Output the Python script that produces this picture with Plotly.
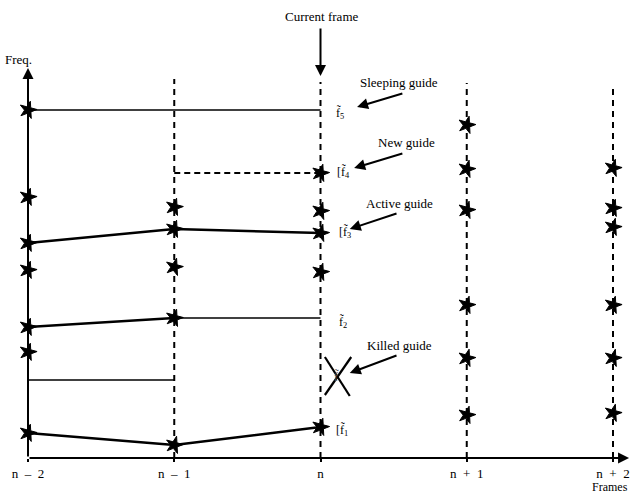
import plotly.graph_objects as go

# Frames (index positions) and labels
frame_idx = [0, 1, 2, 3, 4]
frame_labels = ["n  –  2", "n  –  1", "n", "n  +  1", "n  +  2"]

# Peak frequencies (stars) per frame, arbitrary units
peaks_n2 = [348, 261, 215, 188, 131, 106, 25]
peaks_n1 = [251, 229, 191, 140, 13]
peaks_n0 = [285, 247, 225, 186, 31]
peaks_p1 = [333, 289, 248, 153, 100, 43]
peaks_p2 = [290, 250, 231, 153, 100, 45]

# Dashed frame line heights
frame_top = [390, 379, 376, 375, 369]

# Guides
guide1_x = [0, 1, 2]; guide1_y = [25, 13, 31]
guide2_x = [0, 1];    guide2_y = [131, 140]
guide2_hold_x = [1, 2]; guide2_hold_y = [140, 140]
guide3_x = [0, 1, 2]; guide3_y = [215, 229, 225]
guide4_x = [1, 2];    guide4_y = [285, 285]
guide5_x = [0, 2];    guide5_y = [348, 348]
killed_x = [0, 1];    killed_y = [78, 78]

# Killed guide cross
cross_x = [2.03, 2.20, None, 2.21, 2.03]
cross_y = [101, 62, None, 101, 63]

# Guide labels
glabel_x = [2.09, 2.11, 2.11, 2.10, 2.09]
glabel_y = [28, 136, 226, 286, 345]
glabel_t = ["[f̃<sub>1</sub>", "f̃<sub>2</sub>", "[f̃<sub>3</sub>", "[f̃<sub>4</sub>", "f̃<sub>5</sub>"]

FONT = "Liberation Serif"

fig = go.Figure()

# frame dashed lines
for i in frame_idx[1:]:
    fig.add_trace(go.Scatter(x=[i, i], y=[0, frame_top[i]], mode="lines",
                             line=dict(color="black", width=2, dash="6px,5px"),
                             hoverinfo="skip", showlegend=False))

thin = dict(color="black", width=1.5)
thick = dict(color="black", width=2.4)
fig.add_trace(go.Scatter(x=guide5_x, y=guide5_y, mode="lines", line=thin, showlegend=False))
fig.add_trace(go.Scatter(x=guide4_x, y=guide4_y, mode="lines",
                         line=dict(color="black", width=2, dash="6px,4px"), showlegend=False))
fig.add_trace(go.Scatter(x=guide3_x, y=guide3_y, mode="lines", line=thick, showlegend=False))
fig.add_trace(go.Scatter(x=guide2_x, y=guide2_y, mode="lines", line=thick, showlegend=False))
fig.add_trace(go.Scatter(x=guide2_hold_x, y=guide2_hold_y, mode="lines", line=thin, showlegend=False))
fig.add_trace(go.Scatter(x=killed_x, y=killed_y, mode="lines", line=thin, showlegend=False))
fig.add_trace(go.Scatter(x=guide1_x, y=guide1_y, mode="lines", line=thick, showlegend=False))
fig.add_trace(go.Scatter(x=cross_x, y=cross_y, mode="lines",
                         line=dict(color="black", width=2.2), showlegend=False))

# stars
for i, peaks in zip(frame_idx, [peaks_n2, peaks_n1, peaks_n0, peaks_p1, peaks_p2]):
    fig.add_trace(go.Scatter(x=[i] * len(peaks), y=peaks, mode="markers",
                             marker=dict(symbol="star", size=13, color="black", angle=15,
                                         line=dict(color="black", width=1)),
                             cliponaxis=False, showlegend=False))

ann = []
# guide labels
for x, y, t in zip(glabel_x, glabel_y, glabel_t):
    ann.append(dict(x=x, y=y, text=t, showarrow=False, xanchor="left",
                    font=dict(family=FONT, size=12, color="black")))
ann.append(dict(x=2.08, y=82, text="f̃", showarrow=False, xanchor="left",
                font=dict(family=FONT, size=12, color="#555")))

# text labels with arrows
labels = [("Current frame", 2.01, 442), ("Sleeping guide", 2.54, 376),
          ("New guide", 2.59, 316), ("Active guide", 2.54, 255),
          ("Killed guide", 2.54, 113), ("Freq.", -0.065, 399)]
for t, x, y in labels:
    ann.append(dict(x=x, y=y, text=t, showarrow=False,
                    font=dict(family=FONT, size=13, color="black")))
ann.append(dict(x=1.0, y=-29 / 458, xref="paper", yref="paper", text="Frames",
                showarrow=False, xanchor="right", yanchor="middle",
                font=dict(family=FONT, size=12, color="black")))

arrows = [  # head x, head y, tail x, tail y
    (2.0, 382, 2.0, 431),
    (2.25, 351, 2.57, 365),
    (2.23, 290, 2.57, 305),
    (2.20, 229, 2.53, 245),
    (2.20, 85, 2.53, 103),
    (0.0, 390, 0.0, 0),
    (4.11, 0, 0.0, 0),
]
for hx, hy, tx, ty in arrows:
    ann.append(dict(x=hx, y=hy, ax=tx, ay=ty, axref="x", ayref="y", xref="x", yref="y",
                    text="", showarrow=True, arrowhead=2, arrowsize=1.1,
                    arrowwidth=2, arrowcolor="black", standoff=0, startstandoff=0))

fig.update_layout(
    width=630, height=495,
    margin=dict(l=0, r=0, t=0, b=37),
    paper_bgcolor="white", plot_bgcolor="white",
    annotations=ann,
    xaxis=dict(range=[-28 / 146.25, 602 / 146.25], tickvals=frame_idx, ticktext=frame_labels,
               showgrid=False, zeroline=False, showline=False, ticks="outside", ticklen=3,
               tickwidth=1.5, tickcolor="black", ticklabeloverflow="allow",
               tickfont=dict(family=FONT, size=13, color="black")),
    yaxis=dict(range=[0, 458], visible=False, showgrid=False, zeroline=False),
)

# remove the page's default body margin so the figure fills the window exactly
fig.write_html("out.html", config={"displayModeBar": False},
               post_script="document.body.style.margin='0';document.body.style.overflow='hidden';")
